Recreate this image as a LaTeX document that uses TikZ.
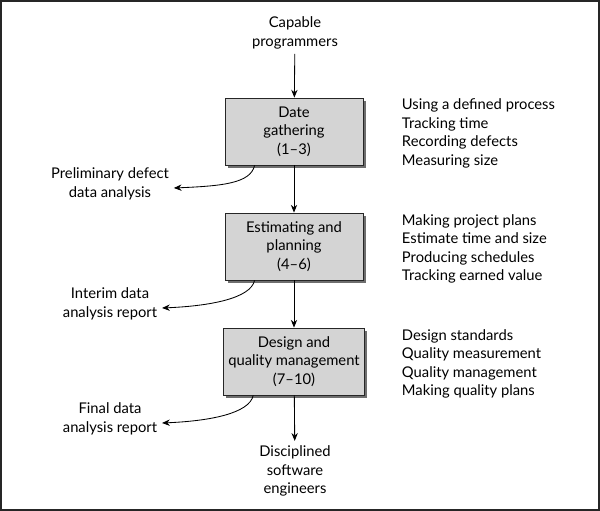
\documentclass[tikz,border=0pt]{standalone}
\usepackage{fontspec}
\setmainfont{Lato}
\usetikzlibrary{arrows.meta,shadows}
\definecolor{boxgray}{RGB}{212,212,212}
\definecolor{shadowgray}{RGB}{110,110,110}

\begin{document}
\begin{tikzpicture}[x=0.025cm,y=-0.025cm,
    every node/.style={font=\fontsize{10.5}{13.1}\selectfont},
    phase/.style={draw=black!85,semithick,fill=boxgray,minimum width=3.45cm,
      minimum height=1.675cm,align=center,
      drop shadow={shadow xshift=2pt,shadow yshift=-2pt,fill=shadowgray,opacity=1}},
    topics/.style={anchor=west,align=left},
    report/.style={align=center},
    flow/.style={semithick,-{Stealth[length=5.5pt,width=4.5pt]}}]
  \useasboundingbox (0,0) rectangle (600,511);
  \draw[line width=1.4pt,black!85] (1,1) rectangle (599,510);

  \node[align=center] (start) at (295,33) {Capable\\programmers};
  \node[phase] (gather) at (294,131.5) {Date\\gathering\\(1--3)};
  \node[phase] (plan) at (294,246.5) {Estimating and\\planning\\(4--6)};
  \node[phase] (quality) at (294,361.5) {Design and\\quality management\\(7--10)};
  \node[align=center] (finish) at (295,471) {Disciplined\\software\\engineers};

  \node[topics] (t1) at (397,133.5) {Using a defined process\\Tracking time\\Recording defects\\Measuring size};
  \node[topics] (t2) at (397,249) {Making project plans\\Estimate time and size\\Producing schedules\\Tracking earned value};
  \node[topics] (t3) at (397,364) {Design standards\\Quality measurement\\Quality management\\Making quality plans};

  \node[report] (r1) at (110,184) {Preliminary defect\\data analysis};
  \node[report] (r2) at (110,304) {Interim data\\analysis report};
  \node[report] (r3) at (110,419) {Final data\\analysis report};

  \draw[flow] (start) -- (gather);
  \draw[flow] (gather) -- (plan);
  \draw[flow] (plan) -- (quality);
  \draw[flow] (quality) -- (finish);

  \foreach \b/\r in {gather/r1,plan/r2,quality/r3}
    \draw[flow] ([xshift=0.75cm]\b.south west) .. controls +(-0.1cm,-0.45cm) and +(1.2cm,0.05cm) .. ([yshift=-0.1cm]\r.east);
\end{tikzpicture}
\end{document}
